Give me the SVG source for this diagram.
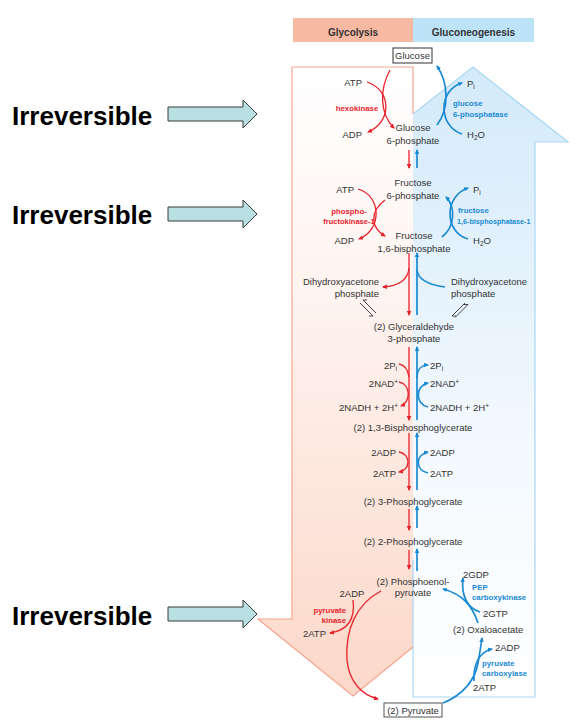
<svg xmlns="http://www.w3.org/2000/svg" width="578" height="720" viewBox="0 0 578 720">
<defs>
<linearGradient id="pinkG" x1="0" y1="0" x2="0" y2="1">
<stop offset="0" stop-color="#ffffff"/>
<stop offset="0.35" stop-color="#fef4f0"/>
<stop offset="1" stop-color="#fcd8c9"/>
</linearGradient>
<linearGradient id="blueG" x1="0" y1="0" x2="0" y2="1">
<stop offset="0" stop-color="#d3eafa"/>
<stop offset="0.6" stop-color="#f3f9fe"/>
<stop offset="1" stop-color="#ffffff"/>
</linearGradient>
<marker id="ar" viewBox="0 0 10 10" refX="8" refY="5" markerWidth="5" markerHeight="5" markerUnits="userSpaceOnUse" orient="auto"><path d="M0,0.5 L10,5 L0,9.5 z" fill="#e8202a"/></marker>
<marker id="ab" viewBox="0 0 10 10" refX="8" refY="5" markerWidth="5" markerHeight="5" markerUnits="userSpaceOnUse" orient="auto"><path d="M0,0.5 L10,5 L0,9.5 z" fill="#1b8ad3"/></marker>
</defs>
<style>
.t{font-family:"Liberation Sans",Arial,sans-serif;font-size:9.5px;fill:#333}
.m{text-anchor:middle}
.e{text-anchor:end}
.er{font-family:"Liberation Sans",Arial,sans-serif;font-size:7.8px;font-weight:bold;fill:#e8202a}
.eb{font-family:"Liberation Sans",Arial,sans-serif;font-size:7.8px;font-weight:bold;fill:#1b8ad3}
.hd{font-family:"Liberation Sans",Arial,sans-serif;font-size:10px;font-weight:bold;fill:#333;text-anchor:middle}
.irr{font-family:"Liberation Sans",Arial,sans-serif;font-size:26px;font-weight:bold;fill:#000}
.blk{fill:#b8dfe1;stroke:#3a3a3a;stroke-width:1}
.r{fill:none;stroke:#e8202a;stroke-width:1.3}
.b{fill:none;stroke:#1b8ad3;stroke-width:1.7}
.eq{fill:none;stroke:#444;stroke-width:1}
.sub{font-size:6.5px}
</style>

<g id="background">
<polygon points="413,697 535,697 535,142 568,142 473,67 413,114" fill="url(#blueG)"/>
<polygon points="292,67 413,67 413,647 353,696 258,619 292,619" fill="url(#pinkG)"/>
<polyline points="413,114 473,67 568,142 535,142 535,697 413,697 413,560" fill="none" stroke="#a9d8f3" stroke-width="1.2"/>
<polyline points="413,114 413,67 292,67 292,619 258,619 353,696 413,647" fill="none" stroke="#f6a58e" stroke-width="1.2"/>
</g>

<g id="header">
<rect x="293" y="18" width="120" height="24" fill="#f8b9a2"/>
<rect x="413" y="18" width="121" height="24" fill="#bce3f7"/>
<text class="hd" x="353" y="35.5">Glycolysis</text>
<text class="hd" x="473.5" y="35.5">Gluconeogenesis</text>
</g>

<g id="irreversible-labels">
<text class="irr" x="12" y="125">Irreversible</text>
<polygon class="blk" points="168,107 243,107 243,100 257,114 243,128 243,121 168,121"/>
<text class="irr" x="12" y="224">Irreversible</text>
<polygon class="blk" points="168,207 243,207 243,200 257,214 243,228 243,221 168,221"/>
<text class="irr" x="12" y="625">Irreversible</text>
<polygon class="blk" points="168,607 243,607 243,600 257,614 243,628 243,621 168,621"/>
</g>

<g id="glucose">
<rect x="393" y="48" width="39" height="15" fill="#fff" stroke="#333" stroke-width="1"/>
<text class="t m" x="412.5" y="59">Glucose</text>
</g>
<g id="step-hexokinase">
<text class="t e" x="362" y="85.5">ATP</text>
<text class="er m" x="357" y="111">hexokinase</text>
<text class="t e" x="362" y="137.5">ADP</text>
<text class="t" x="467" y="86.5">P<tspan class="sub" dy="2">i</tspan></text>
<text class="t" x="467" y="137.5">H<tspan class="sub" dy="2">2</tspan><tspan dy="-2">O</tspan></text>
<text class="eb" x="453" y="106">glucose</text>
<text class="eb" x="453" y="117">6-phosphatase</text>
</g>
<g id="g6p">
<text class="t m" x="413" y="130.5">Glucose</text>
<text class="t m" x="413" y="143.5">6-phosphate</text>
</g>
<g id="f6p">
<text class="t m" x="413" y="186">Fructose</text>
<text class="t m" x="413" y="198.5">6-phosphate</text>
</g>
<g id="step-pfk">
<text class="t e" x="354" y="192.5">ATP</text>
<text class="er m" x="349" y="214">phospho-</text>
<text class="er m" x="349" y="224" style="font-size:7.5px">fructokinase-1</text>
<text class="t e" x="354" y="243.5">ADP</text>
<text class="t" x="473" y="192.5">P<tspan class="sub" dy="2">i</tspan></text>
<text class="t" x="473" y="243.5">H<tspan class="sub" dy="2">2</tspan><tspan dy="-2">O</tspan></text>
<text class="eb" x="458" y="213">fructose</text>
<text class="eb" x="457" y="224" style="font-size:7.2px">1,6-bisphosphatase-1</text>
</g>
<g id="f16bp">
<text class="t m" x="414" y="238.5">Fructose</text>
<text class="t m" x="414" y="251.5">1,6-bisphosphate</text>
</g>
<g id="dhap-left">
<text class="t e" x="379" y="284.5">Dihydroxyacetone</text>
<text class="t e" x="379" y="296.5">phosphate</text>
</g>
<g id="dhap-right">
<text class="t" x="451" y="284.5">Dihydroxyacetone</text>
<text class="t" x="451" y="296.5">phosphate</text>
</g>
<g id="gap">
<text class="t m" x="414" y="329.5">(2) Glyceraldehyde</text>
<text class="t m" x="414" y="341.5">3-phosphate</text>
</g>
<g id="step-gapdh">
<text class="t e" x="397" y="368.5">2P<tspan class="sub" dy="2">i</tspan></text>
<text class="t e" x="398" y="386.5">2NAD<tspan class="sub" dy="-3">+</tspan></text>
<text class="t e" x="398" y="410.5">2NADH + 2H<tspan class="sub" dy="-3">+</tspan></text>
<text class="t" x="430" y="368.5">2P<tspan class="sub" dy="2">i</tspan></text>
<text class="t" x="430" y="386.5">2NAD<tspan class="sub" dy="-3">+</tspan></text>
<text class="t" x="430" y="410.5">2NADH + 2H<tspan class="sub" dy="-3">+</tspan></text>
</g>
<g id="bpg">
<text class="t m" x="413" y="430.5">(2) 1,3-Bisphosphoglycerate</text>
</g>
<g id="step-pgk">
<text class="t e" x="396" y="455.5">2ADP</text>
<text class="t e" x="396" y="476.5">2ATP</text>
<text class="t" x="430" y="455.5">2ADP</text>
<text class="t" x="430" y="476.5">2ATP</text>
</g>
<g id="pg3"><text class="t m" x="413" y="504.5">(2) 3-Phosphoglycerate</text></g>
<g id="pg2"><text class="t m" x="413" y="544.5">(2) 2-Phosphoglycerate</text></g>
<g id="pep">
<text class="t m" x="413" y="584.5">(2) Phosphoenol-</text>
<text class="t m" x="413" y="595.5">pyruvate</text>
</g>
<g id="step-pyruvate-kinase">
<text class="t m" x="352" y="596.5">2ADP</text>
<text class="er e" x="346" y="613">pyruvate</text>
<text class="er e" x="346" y="623">kinase</text>
<text class="t e" x="326" y="636.5">2ATP</text>
</g>
<g id="step-pepck">
<text class="t" x="463" y="577.5">2GDP</text>
<text class="eb" x="472" y="590">PEP</text>
<text class="eb" x="472" y="600">carboxykinase</text>
<text class="t" x="483" y="616.5">2GTP</text>
</g>
<g id="oxaloacetate"><text class="t" x="453" y="632.5">(2) Oxaloacetate</text></g>
<g id="step-pc">
<text class="t" x="495" y="650.5">2ADP</text>
<text class="eb" x="482" y="666">pyruvate</text>
<text class="eb" x="482" y="676">carboxylase</text>
<text class="t" x="473" y="690.5">2ATP</text>
</g>
<g id="pyruvate">
<rect x="384" y="703" width="58" height="14" fill="#fff" stroke="#555" stroke-width="1"/>
<text class="t m" x="413" y="713.5">(2) Pyruvate</text>
</g>

<g id="connectors">
<path class="r" d="M390,70 C379,90 380,114 394,128" marker-end="url(#ar)"/>
<path class="r" d="M367,82 C392,90 392,122 368,132" marker-end="url(#ar)"/>
<path class="b" d="M437,125 C450,108 448,82 437,66" marker-end="url(#ab)"/>
<path class="b" d="M462,134 C438,126 438,90 462,83" marker-end="url(#ab)"/>
<path class="r" d="M409,150 L409,168" marker-end="url(#ar)"/>
<path class="b" d="M417,168 L417,150" marker-end="url(#ab)"/>
<path class="r" d="M358,189 C382,196 382,230 359,239" marker-end="url(#ar)"/>
<path class="r" d="M385,200 C369,212 371,228 385,236" marker-end="url(#ar)"/>
<path class="b" d="M442,237 C456,226 455,206 446,197" marker-end="url(#ab)"/>
<path class="b" d="M468,239 C444,232 444,196 468,188" marker-end="url(#ab)"/>
<path class="r" d="M409,253 L409,315" marker-end="url(#ar)"/>
<path class="r" d="M409,268 C408,280 398,286 383,287" marker-end="url(#ar)"/>
<path class="b" d="M417,315 L417,253" marker-end="url(#ab)"/>
<path class="b" d="M445,287 C430,285 418,280 417,270"/>
<path class="eq" d="M360,303 L373,316 L369,316 M376,313 L363,300 L367,300"/>
<path class="eq" d="M465,303 L452,316 L456,316 M455,317.5 L468,304.5 L464,304.5"/>
<path class="r" d="M409,347 L409,420" marker-end="url(#ar)"/>
<path class="r" d="M399,364 C405,365 408,370 409,377"/>
<path class="r" d="M399,382 C411,384 411,402 401,406" marker-end="url(#ar)"/>
<path class="b" d="M417,420 L417,347" marker-end="url(#ab)"/>
<path class="b" d="M417,378 C417,370 421,365 428,365" marker-end="url(#ab)"/>
<path class="b" d="M428,407 C415,404 415,386 428,383" marker-end="url(#ab)"/>
<path class="r" d="M409,433 L409,490" marker-end="url(#ar)"/>
<path class="r" d="M399,452 C411,454 411,470 399,472" marker-end="url(#ar)"/>
<path class="b" d="M417,490 L417,433" marker-end="url(#ab)"/>
<path class="b" d="M428,473 C415,470 415,455 428,452" marker-end="url(#ab)"/>
<path class="r" d="M409,509 L409,530" marker-end="url(#ar)"/>
<path class="b" d="M417,528 L417,506" marker-end="url(#ab)"/>
<path class="r" d="M409,550 L409,569" marker-end="url(#ar)"/>
<path class="b" d="M417,571 L417,549" marker-end="url(#ab)"/>
<path class="r" d="M381,591 C356,604 345,630 347,660 C349,682 362,695 378,699" marker-end="url(#ar)"/>
<path class="r" d="M353,600 C355,616 350,630 330,633" marker-end="url(#ar)"/>
<path class="b" d="M478,623 C472,605 462,594 443,589" marker-end="url(#ab)"/>
<path class="b" d="M480,612 C467,608 461,595 463,578" marker-end="url(#ab)"/>
<path class="b" d="M443,703 C463,695 475,680 478,663 C480,652 481,645 482,638" marker-end="url(#ab)"/>
<path class="b" d="M474,681 C473,665 479,652 492,649" marker-end="url(#ab)"/>
</g>
</svg>
